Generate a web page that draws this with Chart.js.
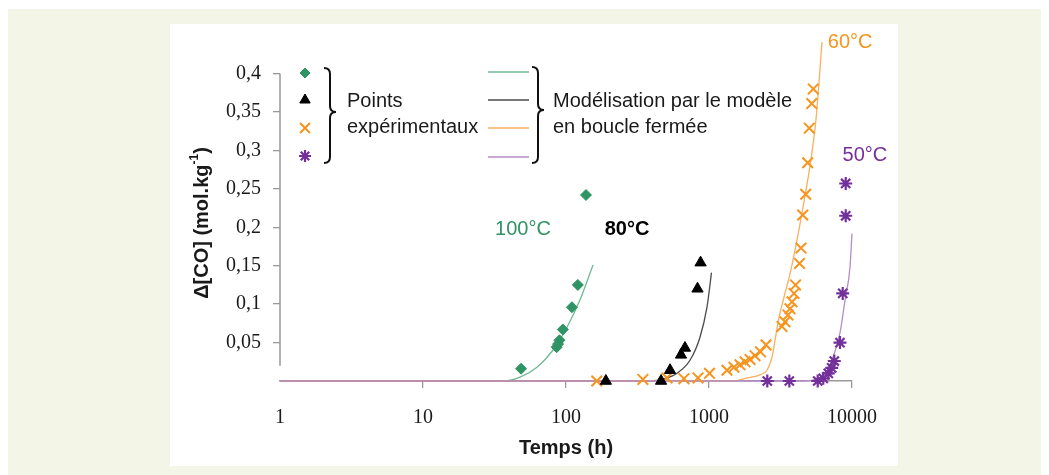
<!DOCTYPE html>
<html><head><meta charset="utf-8">
<script src="https://cdn.jsdelivr.net/npm/chart.js@4/dist/chart.umd.min.js"></script>
<style>
html,body{margin:0;padding:0;background:#fff;}
#bg{position:absolute;left:8px;top:9px;width:1033px;height:466px;background:#f3f6e7;}
#panel{position:absolute;left:170px;top:24px;width:728px;height:442px;background:#fff;}
#c{position:absolute;left:0;top:0;width:1049px;height:475px;}
</style></head><body>
<div id="bg"></div><div id="panel"></div>
<canvas id="c" width="1049" height="475"></canvas>
<script>
// ---- axis ticks ----
const xTickValues = [1, 10, 100, 1000, 10000];
const xTickLabels = ['1', '10', '100', '1000', '10000'];
const yTickValues = [0.05, 0.1, 0.15, 0.2, 0.25, 0.3, 0.35, 0.4];
const yTickLabels = ['0,05', '0,1', '0,15', '0,2', '0,25', '0,3', '0,35', '0,4'];

// ---- experimental points ----
const pts100Time = [48.5, 86, 88, 90, 95, 110, 121, 138];
const pts100Val  = [0.016, 0.044, 0.048, 0.053, 0.067, 0.096, 0.125, 0.242];
const pts80Time  = [190, 462, 534, 637, 679, 831, 873];
const pts80Val   = [0, 0, 0.014, 0.034, 0.043, 0.120, 0.154];
const pts60Time  = [164, 345, 508, 668, 838, 1008, 1336, 1496, 1648, 1786, 1936, 2098, 2291, 2504, 3238, 3399, 3567, 3684, 3806, 3931, 4028, 4296, 4398, 4522, 4746, 4900, 5027, 5227, 5362];
const pts60Val   = [0, 0.002, 0.004, 0.003, 0.004, 0.010, 0.014, 0.018, 0.021, 0.025, 0.028, 0.033, 0.038, 0.047, 0.071, 0.077, 0.086, 0.094, 0.103, 0.114, 0.125, 0.153, 0.173, 0.216, 0.243, 0.284, 0.329, 0.361, 0.380];
const pts50Time  = [2557, 3645, 5757, 6300, 6827, 7211, 7518, 8241, 8610, 9036, 9036];
const pts50Val   = [0, 0, 0, 0.0035, 0.010, 0.017, 0.026, 0.050, 0.114, 0.215, 0.257];

// ---- closed-loop model curves ----
const mod100Time = [1, 37, 47.7, 62.7, 81, 101.6, 125, 154.5];
const mod100Val  = [0, 0, 0.005, 0.018, 0.040, 0.070, 0.105, 0.151];
const mod80Time  = [1, 387, 492, 597, 736, 865, 968, 1041];
const mod80Val   = [0, 0, 0.003, 0.010, 0.027, 0.057, 0.096, 0.141];
const mod60Time  = [1, 1472, 1845, 2274, 2545, 2758, 2896, 3090, 3345, 3744, 4190, 4690, 5164, 5597, 6170];
const mod60Val   = [0, 0, 0.004, 0.008, 0.014, 0.031, 0.053, 0.083, 0.109, 0.145, 0.190, 0.241, 0.288, 0.340, 0.441];
const mod50Time  = [1, 4691, 5337, 5972, 6685, 7363, 8241, 8933, 9683, 10000];
const mod50Val   = [0, 0, 0.001, 0.005, 0.014, 0.031, 0.0625, 0.105, 0.148, 0.192];

const legendLabels = ['Points', 'expérimentaux', 'Modélisation par le modèle', 'en boucle fermée'];
const seriesNames = ['100°C', '80°C', '60°C', '50°C'];

const C = {
  g: '#2e9464', gl: '#72b894',
  k: '#000000', kl: '#4a4a4a',
  o: '#f7941d', ol: '#f9b060',
  p: '#74309a', pl: '#b58cc6'
};

const xy = (t, v) => t.map((x, i) => ({x: x, y: v[i]}));

const scatterStyle = {
  g: {pointStyle: 'rectRot', pointRadius: 5.5, backgroundColor: C.g, borderColor: C.g, borderWidth: 1},
  k: {pointStyle: 'triangle', pointRadius: 6.5, backgroundColor: C.k, borderColor: C.k, borderWidth: 1},
  o: {pointStyle: 'crossRot', pointRadius: 7.5, backgroundColor: C.o, borderColor: C.o, borderWidth: 2},
  p: {pointStyle: 'star', pointRadius: 6.5, backgroundColor: C.p, borderColor: C.p, borderWidth: 2.2}
};

function pts(label, t, v, key) {
  return Object.assign({label: label, data: xy(t, v), showLine: false, clip: false, pointHoverRadius: 6}, scatterStyle[key]);
}
function mod(label, t, v, col) {
  return {label: label, data: xy(t, v), showLine: true, pointRadius: 0, borderColor: col, borderWidth: 1.3,
    cubicInterpolationMode: 'monotone', fill: false, clip: false};
}

const overlay = {
  id: 'overlay',
  beforeDatasetsDraw(chart) {
    const ctx = chart.ctx, y = chart.scales.y, x = chart.scales.x;
    ctx.save();
    ctx.strokeStyle = '#999';
    ctx.lineWidth = 1.5;
    ctx.beginPath();
    ctx.moveTo(x.left, y.getPixelForValue(0.4));
    ctx.lineTo(x.left, y.getPixelForValue(0.02));
    ctx.stroke();
    ctx.restore();
  },
  afterDraw(chart) {
    const ctx = chart.ctx, xs = chart.scales.x, ys = chart.scales.y;
    ctx.save();
    // y title with superscript
    ctx.translate(202, 223);
    ctx.rotate(-Math.PI / 2);
    ctx.fillStyle = '#1a1a1a';
    ctx.textBaseline = 'middle';
    ctx.textAlign = 'left';
    const fMain = 'bold 20px "Liberation Sans", Arial, sans-serif';
    const fSup = 'bold 12px "Liberation Sans", Arial, sans-serif';
    ctx.font = fMain;
    const p1 = 'Δ[CO] (mol.kg', p3 = ')';
    const w1 = ctx.measureText(p1).width, w3 = ctx.measureText(p3).width;
    ctx.font = fSup;
    const w2 = ctx.measureText('-1').width;
    let sx = -(w1 + w2 + w3) / 2;
    ctx.font = fMain; ctx.fillText(p1, sx, 0);
    ctx.font = fSup; ctx.fillText('-1', sx + w1, -7);
    ctx.font = fMain; ctx.fillText(p3, sx + w1 + w2, 0);
    ctx.restore();

    // series annotations
    ctx.save();
    ctx.textAlign = 'center';
    ctx.textBaseline = 'middle';
    const ann = [
      {t: seriesNames[0], x: 50, y: 0.197, c: C.g, b: false},
      {t: seriesNames[1], x: 267, y: 0.197, c: '#000', b: true},
      {t: seriesNames[2], x: 9700, y: 0.441, c: C.o, b: false},
      {t: seriesNames[3], x: 12300, y: 0.294, c: C.p, b: false}
    ];
    ann.forEach(a => {
      ctx.font = (a.b ? 'bold ' : '') + '20px "Liberation Sans", Arial, sans-serif';
      ctx.fillStyle = a.c;
      ctx.fillText(a.t, xs.getPixelForValue(a.x), ys.getPixelForValue(a.y));
    });
    ctx.restore();

    // legend
    ctx.save();
    const H = Chart.helpers;
    const mk = [
      {k: 'g', y: 73}, {k: 'k', y: 100}, {k: 'o', y: 128}, {k: 'p', y: 156}
    ];
    mk.forEach(m => {
      const s = scatterStyle[m.k];
      ctx.fillStyle = s.backgroundColor;
      ctx.strokeStyle = s.borderColor;
      ctx.lineWidth = s.borderWidth;
      H.drawPoint(ctx, {pointStyle: s.pointStyle, radius: s.pointRadius - 0.5, rotation: 0, borderWidth: s.borderWidth}, 305, m.y);
    });
    const lines = [{c: C.gl, y: 72}, {c: C.kl, y: 100}, {c: C.ol, y: 128}, {c: C.pl, y: 157}];
    lines.forEach(l => {
      ctx.strokeStyle = l.c; ctx.lineWidth = 1.3;
      ctx.beginPath(); ctx.moveTo(488, l.y); ctx.lineTo(529, l.y); ctx.stroke();
    });
    function brace(x0, yT, yB, yM) {
      const xm = x0 + 6, x1 = x0 + 12, r = 6;
      ctx.beginPath();
      ctx.moveTo(x0, yT);
      ctx.quadraticCurveTo(xm, yT, xm, yT + r);
      ctx.lineTo(xm, yM - r);
      ctx.quadraticCurveTo(xm, yM, x1, yM);
      ctx.quadraticCurveTo(xm, yM, xm, yM + r);
      ctx.lineTo(xm, yB - r);
      ctx.quadraticCurveTo(xm, yB, x0, yB);
      ctx.stroke();
    }
    ctx.strokeStyle = '#111'; ctx.lineWidth = 2;
    brace(324, 68, 163, 112);
    brace(532, 67, 163, 110);
    ctx.fillStyle = '#1a1a1a';
    ctx.font = '20px "Liberation Sans", Arial, sans-serif';
    ctx.textAlign = 'left'; ctx.textBaseline = 'middle';
    ctx.fillText(legendLabels[0], 347, 101);
    ctx.fillText(legendLabels[1], 347, 127);
    ctx.fillText(legendLabels[2], 553, 101);
    ctx.fillText(legendLabels[3], 553, 127);
    ctx.restore();
  }
};

Chart.defaults.font.family = '"Liberation Sans", Arial, sans-serif';

new Chart(document.getElementById('c'), {
  type: 'scatter',
  data: {
    datasets: [
      pts(seriesNames[0], pts100Time, pts100Val, 'g'),
      pts(seriesNames[1], pts80Time, pts80Val, 'k'),
      pts(seriesNames[2], pts60Time, pts60Val, 'o'),
      pts(seriesNames[3], pts50Time, pts50Val, 'p'),
      mod('Modèle ' + seriesNames[3], mod50Time, mod50Val, C.pl),
      mod('Modèle ' + seriesNames[2], mod60Time, mod60Val, C.ol),
      mod('Modèle ' + seriesNames[1], mod80Time, mod80Val, C.kl),
      mod('Modèle ' + seriesNames[0], mod100Time, mod100Val, C.gl)
    ]
  },
  options: {
    responsive: false,
    animation: false,
    devicePixelRatio: 1,
    layout: {padding: {left: 170, right: 197, top: 39, bottom: 15}},
    plugins: {legend: {display: false}, tooltip: {enabled: false}},
    scales: {
      x: {
        type: 'logarithmic', min: 1, max: 10000,
        afterBuildTicks: s => { s.ticks = xTickValues.map(v => ({value: v})); },
        afterFit: s => { s.height = 79; },
        ticks: {
          callback: v => xTickLabels[xTickValues.indexOf(v)],
          font: {family: '"Liberation Serif", "Times New Roman", serif', size: 20},
          color: '#1a1a1a', padding: 18, maxRotation: 0, autoSkip: false
        },
        grid: {drawOnChartArea: false, drawTicks: true, tickLength: 7, lineWidth: 1.3,
          color: c => (c.tick && c.tick.value === 1) ? 'rgba(0,0,0,0)' : '#999'},
        border: {display: true, color: '#999', width: 1.5},
        title: {display: true, text: 'Temps (h)', padding: 0,
          font: {family: '"Liberation Sans", Arial, sans-serif', size: 20, weight: 'bold'}, color: '#1a1a1a'}
      },
      y: {
        type: 'linear', min: 0, max: 0.445,
        afterBuildTicks: s => { s.ticks = yTickValues.map(v => ({value: v})); },
        afterFit: s => { s.width = 110; },
        ticks: {
          callback: v => yTickLabels[yTickValues.indexOf(v)],
          font: {family: '"Liberation Serif", "Times New Roman", serif', size: 20},
          color: '#1a1a1a', padding: 12, autoSkip: false
        },
        grid: {drawOnChartArea: false, drawTicks: true, tickLength: 7, lineWidth: 1.3, color: '#999'},
        border: {display: false}
      }
    }
  },
  plugins: [overlay]
});
</script>
</body></html>
